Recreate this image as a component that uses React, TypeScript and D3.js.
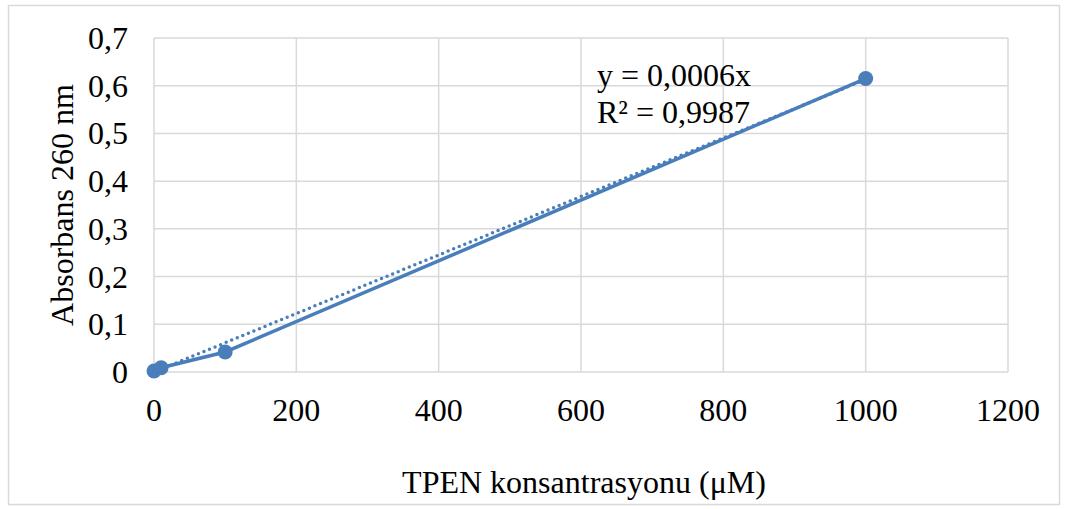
import * as React from 'react';
import * as d3 from 'd3';

const concentrations = [0, 10, 100, 1000];
const absorbances = [0.002, 0.009, 0.042, 0.615];
const xTicks = [0, 200, 400, 600, 800, 1000, 1200];
const yTicks = [0, 0.1, 0.2, 0.3, 0.4, 0.5, 0.6, 0.7];
const equationLines = ['y = 0,0006x', 'R² = 0,9987'];

const W = 1067;
const H = 509;
const margin = { left: 154, right: 59, top: 38, bottom: 137 };
const blue = '#4a7ebb';
const grid = '#d9d9d9';
const font = "'Liberation Serif', 'Times New Roman', 'DejaVu Serif', serif";
const fs = 32;

export default function App() {
    const x = d3.scaleLinear().domain([0, 1200]).range([margin.left, W - margin.right]);
    const y = d3.scaleLinear().domain([0, 0.7]).range([H - margin.bottom, margin.top]);

    const points = concentrations.map((c, i) => [c, absorbances[i]] as [number, number]);
    const line = d3.line<[number, number]>().x(d => x(d[0])).y(d => y(d[1]));

    // linear trendline forced through origin
    const slope = d3.sum(points, d => d[0] * d[1]) / d3.sum(points, d => d[0] * d[0]);
    const xMax = d3.max(concentrations) as number;
    const trend: [number, number][] = [[0, 0], [xMax, slope * xMax]];

    const fmt = (v: number) => String(Math.round(v * 10) / 10).replace('.', ',');

    return (
        <svg width={W} height={H} style={{ position: 'absolute', left: 0, top: 0, fontFamily: font }}>
            <rect x={0} y={0} width={W} height={H} fill="#fff" />
            <rect x={8.5} y={5.5} width={1051} height={499} fill="none" stroke={grid} strokeWidth={1.5} />
            {yTicks.map(t => (
                <line key={'gy' + t} x1={x(0)} x2={x(1200)} y1={y(t)} y2={y(t)} stroke={grid} strokeWidth={1.5} />
            ))}
            {xTicks.map(t => (
                <line key={'gx' + t} x1={x(t)} x2={x(t)} y1={y(0)} y2={y(0.7)} stroke={grid} strokeWidth={1.5} />
            ))}
            {yTicks.map(t => (
                <text key={'ty' + t} x={128} y={y(t) + 11} textAnchor="end" fontSize={fs} fill="#000">{fmt(t)}</text>
            ))}
            {xTicks.map(t => (
                <text key={'tx' + t} x={x(t)} y={421} textAnchor="middle" fontSize={fs} fill="#000">{t}</text>
            ))}
            <path d={line(trend) ?? ''} fill="none" stroke={blue} strokeWidth={3.5} strokeDasharray="0,6" strokeLinecap="round" />
            <path d={line(points) ?? ''} fill="none" stroke={blue} strokeWidth={3.5} />
            {points.map((d, i) => (
                <circle key={i} cx={x(d[0])} cy={y(d[1])} r={7.5} fill={blue} />
            ))}
            {equationLines.map((s, i) => (
                <text key={s} x={597} y={86 + i * 37} fontSize={fs} fill="#000">{s}</text>
            ))}
            <text transform={`translate(73, 205) rotate(-90)`} textAnchor="middle" fontSize={fs} fill="#000">Absorbans 260 nm</text>
            <text x={584} y={493} textAnchor="middle" fontSize={fs} fill="#000">TPEN konsantrasyonu (μM)</text>
        </svg>
    );
}
